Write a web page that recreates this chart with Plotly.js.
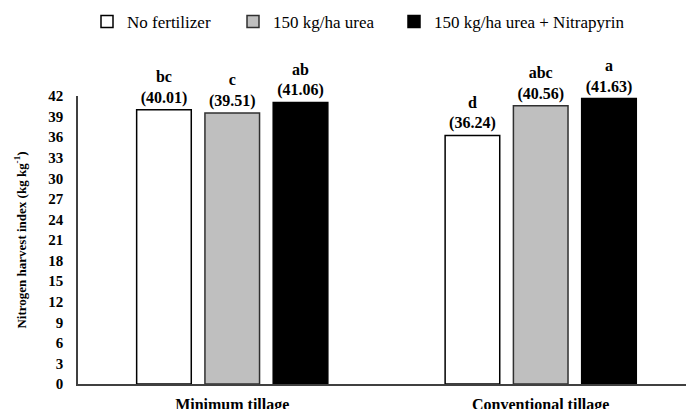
<!DOCTYPE html>
<html>
<head>
<meta charset="utf-8">
<script src="https://cdn.plot.ly/plotly-3.0.1.min.js"></script>
<style>
html,body{margin:0;padding:0;background:#fff;}
#chart{width:686px;height:409px;}
</style>
</head>
<body>
<div id="chart"></div>
<script>
const categories = ['Minimum tillage', 'Conventional tillage'];
const seriesNames = ['No fertilizer', '150 kg/ha urea', '150 kg/ha urea + Nitrapyrin'];
const noFertilizer = [40.01, 36.24];
const urea150 = [39.51, 40.56];
const urea150Nitrapyrin = [41.06, 41.63];
const lettersNoFertilizer = ['bc', 'd'];
const lettersUrea150 = ['c', 'abc'];
const lettersUrea150Nitrapyrin = ['ab', 'a'];
const yTickValues = [0, 3, 6, 9, 12, 15, 18, 21, 24, 27, 30, 33, 36, 39, 42];

const FONT = '"Liberation Serif", "Times New Roman", serif';
const fills = ['#ffffff', '#bfbfbf', '#000000'];
const outlines = ['#000000', '#303030', '#000000'];
const values = [noFertilizer, urea150, urea150Nitrapyrin];
const letters = [lettersNoFertilizer, lettersUrea150, lettersUrea150Nitrapyrin];
const legendIds = ['legend', 'legend2', 'legend3'];

const traces = seriesNames.map((name, i) => ({
  type: 'bar',
  name: name,
  x: categories,
  y: values[i],
  customdata: letters[i],
  texttemplate: '%{customdata}<br>(%{y:.2f})',
  textposition: 'outside',
  cliponaxis: false,
  constraintext: 'none',
  textfont: {family: FONT, size: 16, color: '#000', weight: 'bold'},
  marker: {color: fills[i], line: {color: outlines[i], width: 1.5}},
  legend: legendIds[i],
  hoverinfo: 'x+y+name'
}));

const legendBase = (x) => ({
  orientation: 'h',
  xref: 'container', yref: 'container',
  x: x, y: 1 - 22 / 409,
  xanchor: 'left', yanchor: 'middle',
  font: {family: FONT, size: 17, color: '#000'},
  bgcolor: 'rgba(0,0,0,0)',
  borderwidth: 0
});

const layout = {
  width: 686, height: 409,
  margin: {l: 78, r: 0, t: 96, b: 25},
  paper_bgcolor: '#fff',
  plot_bgcolor: '#fff',
  font: {family: FONT, color: '#000'},
  barmode: 'group',
  bargap: 0.336,
  bargroupgap: 0.2,
  showlegend: true,
  legend: legendBase(87 / 686),
  legend2: legendBase(233 / 686),
  legend3: legendBase(394 / 686),
  xaxis: {
    type: 'category',
    range: [-0.5, 1.471],
    showline: true, linecolor: '#404040', linewidth: 1.5,
    ticks: '', showgrid: false, zeroline: false,
    ticklabelstandoff: 5,
    tickfont: {family: FONT, size: 16, color: '#000', weight: 'bold'}
  },
  yaxis: {
    range: [0, 42],
    tickvals: yTickValues,
    ticktext: yTickValues.map(String),
    showline: true, linecolor: '#404040', linewidth: 1.5,
    ticks: '', showgrid: false, zeroline: false,
    ticklabelstandoff: 10,
    tickfont: {family: FONT, size: 15, color: '#000', weight: 'bold'},
    title: {
      text: 'Nitrogen harvest index (kg kg<sup>-1</sup>)',
      font: {family: FONT, size: 13, color: '#000', weight: 'bold'},
      standoff: 19
    }
  }
};

Plotly.newPlot('chart', traces, layout, {displayModeBar: false, responsive: false});
</script>
</body>
</html>
